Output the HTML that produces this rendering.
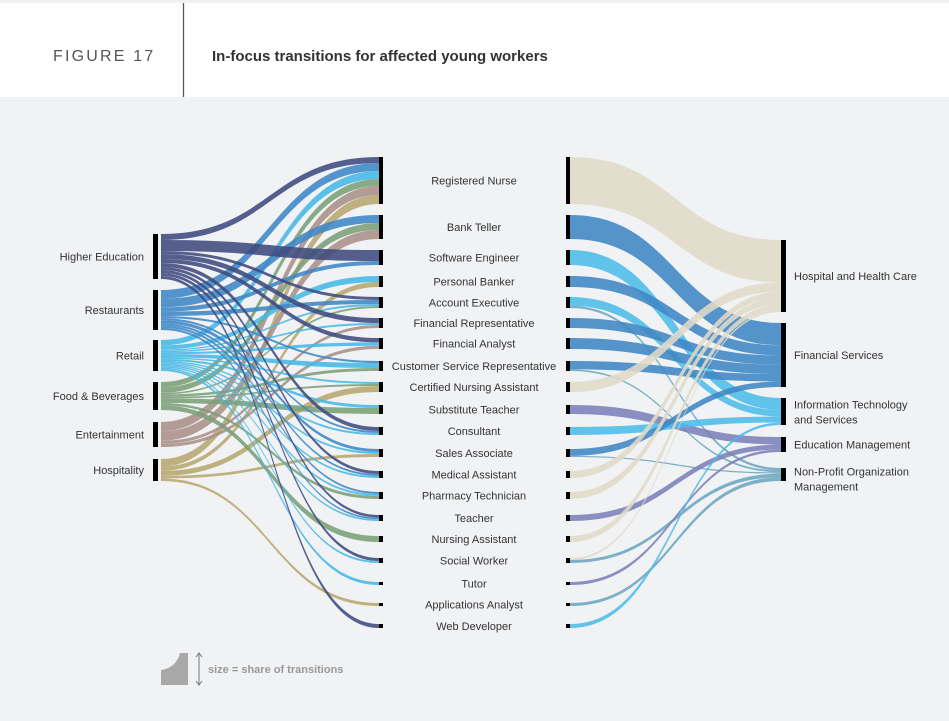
<!DOCTYPE html>
<html><head><meta charset="utf-8"><style>
body{margin:0;background:#f1f2f4;}
#w{position:relative;width:949px;height:721px;overflow:hidden;background:#f1f2f4;font-family:"Liberation Sans",sans-serif;}
#hdr{position:absolute;left:0;top:3px;width:949px;height:94px;background:#fff;}
</style></head><body><div id="w">
<div id="hdr"></div>
<svg id="s" width="949" height="721" style="position:absolute;left:0;top:0" font-family="Liberation Sans, sans-serif">
<line x1="183.5" y1="3" x2="183.5" y2="97" stroke="#555" stroke-width="1.3"/>
<text x="53" y="61" font-size="16" fill="#555" letter-spacing="2.2">FIGURE 17</text>
<text x="212" y="61" font-size="15" font-weight="bold" fill="#333">In-focus transitions for affected young workers</text>
<g id="links"></g><g id="bars"></g><g id="labels" font-size="11" fill="#333"></g>
<path d="M161 685 L161 670 Q176 668 180 653 L188 653 L188 685 Z" fill="#a8a8a8"/>
<line x1="199" y1="654" x2="199" y2="684" stroke="#777" stroke-width="1"/>
<path d="M196 657 L199 653 L202 657 M196 681 L199 685 L202 681" stroke="#777" fill="none"/>
<text x="208" y="673" font-size="11" font-weight="bold" fill="#999">size = share of transitions</text>
</svg>
<script>
var L=[["Higher Education",234,279,"#3f4a7f"],["Restaurants",290,330,"#3d86c6"],["Retail",340,371,"#46b8e6"],["Food & Beverages",382,410,"#7a9f78"],["Entertainment",422,447,"#a89088"],["Hospitality",459,481,"#b7a66e"]];
var M=[["Registered Nurse",157,204],["Bank Teller",215,239],["Software Engineer",250,265],["Personal Banker",276,287],["Account Executive",297,308],["Financial Representative",318,328],["Financial Analyst",338,349],["Customer Service Representative",361,371],["Certified Nursing Assistant",382,392],["Substitute Teacher",405,414],["Consultant",427,435],["Sales Associate",449,457],["Medical Assistant",471,478],["Pharmacy Technician",492,499],["Teacher",515,521],["Nursing Assistant",536,542],["Social Worker",558,563],["Tutor",582,585],["Applications Analyst",603,606],["Web Developer",624,628]];
var R=[["Hospital and Health Care",240,312,"#e0dac8"],["Financial Services",323,387,"#3f86c4"],["Information Technology|and Services",398,425,"#4cbbe8"],["Education Management",437,452,"#7b80b9"],["Non-Profit Organization|Management",468,481,"#6aa6bf"]];
var LL=[[0,0,6],[1,0,8],[2,0,8],[3,0,7],[4,0,9],[5,0,9],[1,1,8],[3,1,7],[4,1,9],[0,2,11],[1,2,4],[2,3,6],[5,3,5],[0,4,3],[1,4,4],[3,4,2],[2,4,2],[0,5,5],[4,5,3],[2,5,2],[0,6,4],[4,6,3],[2,6,3],[2,7,5],[3,7,3],[1,7,2],[5,8,6],[2,8,2],[3,8,2],[2,9,3],[3,9,6],[0,10,4],[1,10,2],[2,10,2],[5,11,3],[1,11,3],[2,11,2],[0,12,3],[1,12,2],[2,12,2],[1,13,2],[3,13,3],[2,13,2],[0,14,3],[1,14,2],[2,14,2],[3,15,6],[0,16,3],[2,16,2],[2,17,3],[5,18,3],[0,19,3]];
var RL=[[0,0,46],[1,1,24],[2,2,14],[3,1,11],[4,2,8],[4,4,2],[5,1,10],[6,1,10],[7,1,8],[7,4,1.5],[8,0,10],[9,3,9],[10,2,7],[11,1,6],[11,4,1],[12,0,7],[13,0,7],[14,3,6],[15,0,6],[16,0,2],[16,4,3],[17,3,3],[18,4,3],[19,2,3]];
var links=document.getElementById("links"),bars=document.getElementById("bars"),lab=document.getElementById("labels"),NS="http://www.w3.org/2000/svg";
function el(t,a,p){var e=document.createElementNS(NS,t);for(var k in a)e.setAttribute(k,a[k]);(p||links).appendChild(e);return e;}
function stack(list,keyNode,orderKey,nodes){var res={};nodes.forEach(function(n,i){var ls=list.map(function(l,j){return [l,j]}).filter(function(x){return x[0][keyNode]==i});ls.sort(function(a,b){return a[0][orderKey]-b[0][orderKey]});var tot=ls.reduce(function(s,x){return s+x[0][2]},0);var y=n[1],h=n[2]-n[1];ls.forEach(function(x){var d=x[0][2]/tot*h;res[x[1]]=[y,y+d];y+=d;});});return res;}
function draw(list,SN,TN,x0,x1,colf){var a=stack(list,0,1,SN),b=stack(list,1,0,TN);var xm=(x0+x1)/2;list.forEach(function(l,j){var s=a[j],t=b[j];el("path",{d:"M"+x0+" "+s[0]+"C"+xm+" "+s[0]+" "+xm+" "+t[0]+" "+x1+" "+t[0]+"L"+x1+" "+t[1]+"C"+xm+" "+t[1]+" "+xm+" "+s[1]+" "+x0+" "+s[1]+"Z",fill:colf(l),"fill-opacity":0.88});});}
draw(LL,L,M,161,379,function(l){return L[l[0]][3]});
draw(RL,M,R,570,781,function(l){return R[l[1]][3]});
L.forEach(function(n){el("rect",{x:153,y:n[1],width:5,height:n[2]-n[1],fill:"#000"},bars);el("text",{x:144,y:(n[1]+n[2])/2+4,"text-anchor":"end"},lab).textContent=n[0];});
M.forEach(function(n){var h=Math.max(3,n[2]-n[1]);el("rect",{x:379,y:n[1],width:4,height:h,fill:"#000"},bars);el("rect",{x:566,y:n[1],width:4,height:h,fill:"#000"},bars);el("text",{x:474,y:(n[1]+n[2])/2+4,"text-anchor":"middle"},lab).textContent=n[0];});
R.forEach(function(n){el("rect",{x:781,y:n[1],width:5,height:n[2]-n[1],fill:"#000"},bars);var p=n[0].split("|");var c=(n[1]+n[2])/2;if(p.length==1)el("text",{x:794,y:c+4},lab).textContent=p[0];else{var y0=n[0].indexOf("Non")==0?c+1:c-3;el("text",{x:794,y:y0},lab).textContent=p[0];el("text",{x:794,y:y0+15},lab).textContent=p[1];}});
</script>
</div></body></html>
